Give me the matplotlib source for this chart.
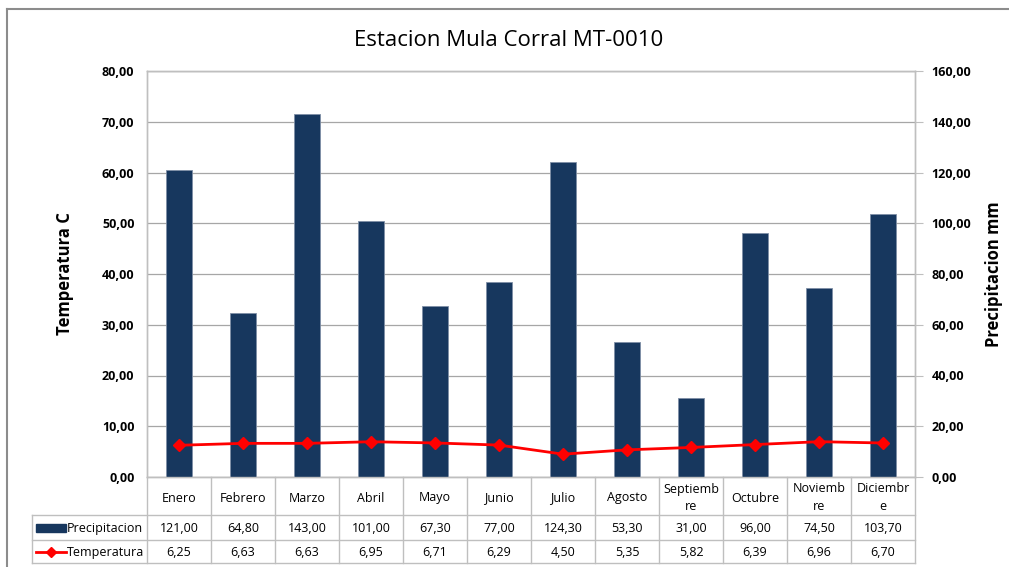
import numpy as np
import matplotlib.pyplot as plt
from matplotlib.lines import Line2D
from matplotlib.patches import Rectangle

# Data for the station
meses = ["Enero", "Febrero", "Marzo", "Abril", "Mayo", "Junio", "Julio",
         "Agosto", "Septiemb\nre", "Octubre", "Noviemb\nre", "Diciembr\ne"]
precipitacion = [121.00, 64.80, 143.00, 101.00, 67.30, 77.00, 124.30,
                 53.30, 31.00, 96.00, 74.50, 103.70]
temperatura = [6.25, 6.63, 6.63, 6.95, 6.71, 6.29, 4.50,
               5.35, 5.82, 6.39, 6.96, 6.70]

plt.rcParams['font.family'] = ['Open Sans', 'DejaVu Sans']

W, H = 1009, 567
fig = plt.figure(figsize=(W / 100, H / 100), dpi=100)

def fig_box(x0, y0, x1, y1):
    return [x0 / W, 1 - y1 / H, (x1 - x0) / W, (y1 - y0) / H]

# pixel bounds of plot area
PL, PR, PT, PB = 147, 915, 71, 477

navy = '#17375E'
grey = '#BFBFBF'

# secondary axis (bars + grid) sits below the temperature axis
ax2 = fig.add_axes(fig_box(PL, PT, PR, PB))
ax = fig.add_axes(fig_box(PL, PT, PR, PB), sharex=ax2)
ax.set_zorder(ax2.get_zorder() + 1)
ax.patch.set_visible(False)

x = np.arange(len(meses))
ax2.bar(x, precipitacion, width=0.42, color=navy, edgecolor='#7F8FA6', linewidth=0.6, zorder=3)
ax2.set_ylim(0, 160)
ax2.set_yticks(np.arange(0, 161, 20))
ax2.grid(axis='y', color='#A6A6A6', linewidth=0.9, zorder=0)
ax2.set_axisbelow(True)
ax2.yaxis.tick_right()
ax2.yaxis.set_label_position('right')
ax2.set_yticklabels([f"{v:.2f}".replace('.', ',') for v in np.arange(0, 161, 20)],
                    fontsize=9, fontweight='bold')
ax2.tick_params(axis='y', direction='out', length=6, color=grey, pad=6)
ax2.set_ylabel("Precipitacion mm", fontsize=12, fontweight='bold', labelpad=10)
ax2.set_xlim(-0.5, len(meses) - 0.5)
ax2.set_xticks([])

ax.plot(x, temperatura, color='#FF0000', linewidth=2, marker='D', markersize=6, zorder=5)
ax.set_ylim(0, 80)
ax.set_yticks(np.arange(0, 81, 10))
ax.set_yticklabels([f"{v:.2f}".replace('.', ',') for v in np.arange(0, 81, 10)],
                   fontsize=9, fontweight='bold')
ax.tick_params(axis='y', length=0, pad=9)
ax.set_ylabel("Temperatura C", fontsize=12, fontweight='bold', labelpad=20)
ax.tick_params(axis='x', length=0, labelbottom=False)

for a in (ax, ax2):
    for s in a.spines.values():
        s.set_color(grey)
        s.set_linewidth(1)
ax.spines['bottom'].set_visible(False)

fig.text(509 / W, 1 - 40 / H, "Estacion Mula Corral MT-0010", ha='center', va='center',
         fontsize=16, fontfamily='Open Sans')

# data table underneath, drawn on an overlay in pixel coordinates
ov = fig.add_axes([0, 0, 1, 1])
ov.set_xlim(0, W)
ov.set_ylim(H, 0)
ov.axis('off')
ov.patch.set_visible(False)

col_w = (PR - PL) / len(meses)
r0, r1, r2, r3 = PB, 515, 540, 563
LX = 32

for i in range(len(meses) + 1):
    xx = PL + i * col_w
    ov.add_line(Line2D([xx, xx], [r0, r3], color=grey, lw=1))
ov.add_line(Line2D([LX, LX], [r1, r3], color=grey, lw=1))
for yy in (r1, r2, r3):
    ov.add_line(Line2D([LX, PR], [yy, yy], color=grey, lw=1))
ov.add_line(Line2D([PL, PR], [r0, r0], color=grey, lw=1))

for i, m in enumerate(meses):
    cx = PL + (i + 0.5) * col_w
    ov.text(cx, (r0 + r1) / 2 + 2, m, ha='center', va='center', fontsize=9, linespacing=1.5)
    ov.text(cx, (r1 + r2) / 2 + 1, f"{precipitacion[i]:.2f}".replace('.', ','),
            ha='center', va='center', fontsize=9)
    ov.text(cx, (r2 + r3) / 2 + 1, f"{temperatura[i]:.2f}".replace('.', ','),
            ha='center', va='center', fontsize=9)

# legend keys in the row header cells
ov.add_patch(Rectangle((36, (r1 + r2) / 2 - 4), 30, 8, color=navy))
ov.text(67, (r1 + r2) / 2 + 1, "Precipitacion", ha='left', va='center', fontsize=9)
ov.add_line(Line2D([36, 66], [(r2 + r3) / 2] * 2, color='#FF0000', lw=2))
ov.add_line(Line2D([51], [(r2 + r3) / 2], color='#FF0000', marker='D', markersize=5))
ov.text(67, (r2 + r3) / 2 + 1, "Temperatura", ha='left', va='center', fontsize=9)

# chart border: only the left and top edges show in the original crop
ov.add_line(Line2D([7, 7], [9, H], color='#8C8C8C', lw=1.5))
ov.add_line(Line2D([7, W], [9, 9], color='#8C8C8C', lw=1.5))

fig.savefig("out.png", dpi=100)
